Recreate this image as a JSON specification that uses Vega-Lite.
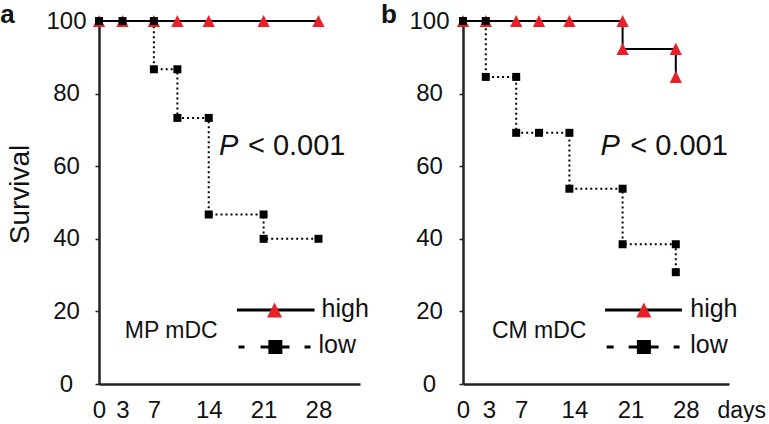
{
  "$schema": "https://vega.github.io/schema/vega-lite/v6.json",
  "background": "white",
  "padding": {"left": 0, "top": 2, "right": 0, "bottom": 0},
  "spacing": 11,
  "config": {
    "view": {"stroke": null},
    "font": "Liberation Sans",
    "axis": {
      "grid": false,
      "domainColor": "#222222",
      "domainWidth": 2.5,
      "labelFont": "Liberation Sans",
      "labelFontSize": 24,
      "labelColor": "#111111",
      "tickColor": "#222222",
      "titleFont": "Liberation Sans",
      "titleColor": "#111111",
      "titleFontWeight": "normal"
    },
    "text": {"color": "#111111"}
  },
  "datasets": {
    "curvesA": [
      {"group": "high", "seq": 1, "day": 0, "surv": 100},
      {"group": "high", "seq": 2, "day": 3, "surv": 100},
      {"group": "high", "seq": 3, "day": 7, "surv": 100},
      {"group": "high", "seq": 4, "day": 10, "surv": 100},
      {"group": "high", "seq": 5, "day": 14, "surv": 100},
      {"group": "high", "seq": 6, "day": 21, "surv": 100},
      {"group": "high", "seq": 7, "day": 28, "surv": 100},
      {"group": "low", "seq": 1, "day": 0, "surv": 100},
      {"group": "low", "seq": 2, "day": 3, "surv": 100},
      {"group": "low", "seq": 3, "day": 7, "surv": 100},
      {"group": "low", "seq": 4, "day": 7, "surv": 86.7},
      {"group": "low", "seq": 5, "day": 10, "surv": 86.7},
      {"group": "low", "seq": 6, "day": 10, "surv": 73.3},
      {"group": "low", "seq": 7, "day": 14, "surv": 73.3},
      {"group": "low", "seq": 8, "day": 14, "surv": 46.7},
      {"group": "low", "seq": 9, "day": 21, "surv": 46.7},
      {"group": "low", "seq": 10, "day": 21, "surv": 40},
      {"group": "low", "seq": 11, "day": 28, "surv": 40}
    ],
    "curvesB": [
      {"group": "high", "seq": 1, "day": 0, "surv": 100},
      {"group": "high", "seq": 2, "day": 3, "surv": 100},
      {"group": "high", "seq": 3, "day": 7, "surv": 100},
      {"group": "high", "seq": 4, "day": 10, "surv": 100},
      {"group": "high", "seq": 5, "day": 14, "surv": 100},
      {"group": "high", "seq": 6, "day": 21, "surv": 100},
      {"group": "high", "seq": 7, "day": 21, "surv": 92.3},
      {"group": "high", "seq": 8, "day": 28, "surv": 92.3},
      {"group": "high", "seq": 9, "day": 28, "surv": 84.6},
      {"group": "low", "seq": 1, "day": 0, "surv": 100},
      {"group": "low", "seq": 2, "day": 3, "surv": 100},
      {"group": "low", "seq": 3, "day": 3, "surv": 84.6},
      {"group": "low", "seq": 4, "day": 7, "surv": 84.6},
      {"group": "low", "seq": 5, "day": 7, "surv": 69.2},
      {"group": "low", "seq": 6, "day": 10, "surv": 69.2},
      {"group": "low", "seq": 7, "day": 14, "surv": 69.2},
      {"group": "low", "seq": 8, "day": 14, "surv": 53.8},
      {"group": "low", "seq": 9, "day": 21, "surv": 53.8},
      {"group": "low", "seq": 10, "day": 21, "surv": 38.5},
      {"group": "low", "seq": 11, "day": 28, "surv": 38.5},
      {"group": "low", "seq": 12, "day": 28, "surv": 30.8}
    ],
    "notesA": [
      {"kind": "hline", "day": 17.6, "surv": 20.4},
      {"kind": "hline", "day": 27.5, "surv": 20.4},
      {"kind": "lline", "day": 17.8, "surv": 10.2},
      {"kind": "lline", "day": 27.0, "surv": 10.2},
      {"kind": "hmark", "day": 22.4, "surv": 20.4},
      {"kind": "lmark", "day": 22.5, "surv": 10.2},
      {"kind": "key", "day": 28.4, "surv": 18.5, "label": "high"},
      {"kind": "key", "day": 28.0, "surv": 8.5, "label": "low"},
      {"kind": "cell", "day": 3.3, "surv": 12.7, "label": "MP mDC"},
      {"kind": "pit", "day": 15.3, "surv": 63.1, "label": "P"},
      {"kind": "prest", "day": 19.0, "surv": 63.1, "label": "< 0.001"},
      {"kind": "panel", "day": -12.6, "surv": 99.4, "label": "a"}
    ],
    "notesB": [
      {"kind": "hline", "day": 18.7, "surv": 20.4},
      {"kind": "hline", "day": 28.8, "surv": 20.4},
      {"kind": "lline", "day": 18.9, "surv": 10.2},
      {"kind": "lline", "day": 28.5, "surv": 10.2},
      {"kind": "hmark", "day": 23.8, "surv": 20.4},
      {"kind": "lmark", "day": 23.8, "surv": 10.2},
      {"kind": "key", "day": 29.9, "surv": 18.5, "label": "high"},
      {"kind": "key", "day": 29.9, "surv": 8.5, "label": "low"},
      {"kind": "cell", "day": 3.8, "surv": 12.7, "label": "CM mDC"},
      {"kind": "pit", "day": 18.1, "surv": 63.1, "label": "P"},
      {"kind": "prest", "day": 22.0, "surv": 63.1, "label": "< 0.001"},
      {"kind": "panel", "day": -10.8, "surv": 99.4, "label": "b"}
    ]
  },
  "hconcat": [
    {
      "width": 261,
      "height": 363,
      "encoding": {
        "x": {
          "field": "day", "type": "quantitative",
          "scale": {"domain": [0, 33.3], "nice": false, "zero": false},
          "axis": {
            "values": [0, 3, 7, 14, 21, 28], "title": null, "ticks": false, "tickSize": 0,
            "labelPadding": 14, "labelFlush": false, "labelOverlap": false
          }
        },
        "y": {
          "field": "surv", "type": "quantitative",
          "scale": {"domain": [0, 100], "nice": false},
          "axis": {
            "values": [0, 20, 40, 60, 80, 100], "title": "Survival", "titleFontSize": 28,
            "titlePadding": 11, "titleY": 173, "labelAlign": "center", "labelPadding": 29,
            "tickSize": 4, "tickWidth": 1.5, "labelOverlap": false
          }
        }
      },
      "layer": [
        {
          "data": {"name": "curvesA"},
          "mark": {"type": "line", "color": "#000000", "strokeWidth": 2},
          "encoding": {
            "strokeDash": {"field": "group", "type": "nominal", "scale": {"domain": ["high", "low"], "range": [[1, 0], [2, 3]]}, "legend": null},
            "order": {"field": "seq", "type": "quantitative"}
          }
        },
        {
          "data": {"name": "curvesA"},
          "mark": {"type": "point", "filled": true, "opacity": 1, "strokeWidth": 0},
          "encoding": {
            "shape": {"field": "group", "type": "nominal", "scale": {"domain": ["high", "low"], "range": ["M-1,1L1,1L0,-1Z", "square"]}, "legend": null},
            "color": {"field": "group", "type": "nominal", "scale": {"domain": ["high", "low"], "range": ["#e8202a", "#000000"]}, "legend": null},
            "size": {"field": "group", "type": "ordinal", "scale": {"domain": ["high", "low"], "range": [150, 64]}, "legend": null}
          }
        },
        {
          "data": {"name": "notesA"},
          "transform": [{"filter": "datum.kind == 'hline'"}],
          "mark": {"type": "line", "color": "#000000", "strokeWidth": 3},
          "encoding": {}
        },
        {
          "data": {"name": "notesA"},
          "transform": [{"filter": "datum.kind == 'lline'"}],
          "mark": {"type": "line", "color": "#000000", "strokeWidth": 3, "strokeDash": [6, 16, 29, 15, 6, 300]},
          "encoding": {}
        },
        {
          "data": {"name": "notesA"},
          "transform": [{"filter": "datum.kind == 'hmark'"}],
          "mark": {"type": "point", "filled": true, "opacity": 1, "strokeWidth": 0, "shape": "M-1,1L1,1L0,-1Z", "size": 225, "color": "#e8202a"}
        },
        {
          "data": {"name": "notesA"},
          "transform": [{"filter": "datum.kind == 'lmark'"}],
          "mark": {"type": "point", "filled": true, "opacity": 1, "strokeWidth": 0, "shape": "square", "size": 196, "color": "#000000"}
        },
        {
          "data": {"name": "notesA"},
          "transform": [{"filter": "datum.kind == 'key'"}],
          "mark": {"type": "text", "align": "left", "baseline": "alphabetic", "fontSize": 25},
          "encoding": {"text": {"field": "label"}}
        },
        {
          "data": {"name": "notesA"},
          "transform": [{"filter": "datum.kind == 'cell'"}],
          "mark": {"type": "text", "align": "left", "baseline": "alphabetic", "fontSize": 23},
          "encoding": {"text": {"field": "label"}}
        },
        {
          "data": {"name": "notesA"},
          "transform": [{"filter": "datum.kind == 'pit'"}],
          "mark": {"type": "text", "align": "left", "baseline": "alphabetic", "fontSize": 29, "fontStyle": "italic"},
          "encoding": {"text": {"field": "label"}}
        },
        {
          "data": {"name": "notesA"},
          "transform": [{"filter": "datum.kind == 'prest'"}],
          "mark": {"type": "text", "align": "left", "baseline": "alphabetic", "fontSize": 29},
          "encoding": {"text": {"field": "label"}}
        },
        {
          "data": {"name": "notesA"},
          "transform": [{"filter": "datum.kind == 'panel'"}],
          "mark": {"type": "text", "align": "left", "baseline": "alphabetic", "fontSize": 26, "fontWeight": "bold"},
          "encoding": {"text": {"field": "label"}}
        }
      ]
    },
    {
      "width": 266,
      "height": 363,
      "encoding": {
        "x": {
          "field": "day", "type": "quantitative",
          "scale": {"domain": [0, 35], "nice": false, "zero": false},
          "axis": {
            "values": [0, 3, 7, 14, 21, 28], "title": "days", "titleFontSize": 23,
            "titleAlign": "left", "titleBaseline": "alphabetic", "titleX": 254, "titleY": 33,
            "ticks": false, "tickSize": 0, "labelPadding": 14, "labelFlush": false, "labelOverlap": false,
            "labelOffset": {
              "condition": [
                {"test": "datum.value == 3", "value": 3},
                {"test": "datum.value == 7", "value": 5},
                {"test": "datum.value == 14", "value": 5},
                {"test": "datum.value == 21", "value": 8},
                {"test": "datum.value == 28", "value": 10}
              ],
              "value": 0
            }
          }
        },
        "y": {
          "field": "surv", "type": "quantitative",
          "scale": {"domain": [0, 100], "nice": false},
          "axis": {
            "values": [0, 20, 40, 60, 80, 100], "title": null, "labelAlign": "center", "labelPadding": 30,
            "tickSize": 4, "tickWidth": 1.5, "labelOverlap": false
          }
        }
      },
      "layer": [
        {
          "data": {"name": "curvesB"},
          "mark": {"type": "line", "color": "#000000", "strokeWidth": 2},
          "encoding": {
            "strokeDash": {"field": "group", "type": "nominal", "scale": {"domain": ["high", "low"], "range": [[1, 0], [2, 3]]}, "legend": null},
            "order": {"field": "seq", "type": "quantitative"}
          }
        },
        {
          "data": {"name": "curvesB"},
          "mark": {"type": "point", "filled": true, "opacity": 1, "strokeWidth": 0},
          "encoding": {
            "shape": {"field": "group", "type": "nominal", "scale": {"domain": ["high", "low"], "range": ["M-1,1L1,1L0,-1Z", "square"]}, "legend": null},
            "color": {"field": "group", "type": "nominal", "scale": {"domain": ["high", "low"], "range": ["#e8202a", "#000000"]}, "legend": null},
            "size": {"field": "group", "type": "ordinal", "scale": {"domain": ["high", "low"], "range": [150, 64]}, "legend": null}
          }
        },
        {
          "data": {"name": "notesB"},
          "transform": [{"filter": "datum.kind == 'hline'"}],
          "mark": {"type": "line", "color": "#000000", "strokeWidth": 3},
          "encoding": {}
        },
        {
          "data": {"name": "notesB"},
          "transform": [{"filter": "datum.kind == 'lline'"}],
          "mark": {"type": "line", "color": "#000000", "strokeWidth": 3, "strokeDash": [7, 15, 30, 15, 6, 300]},
          "encoding": {}
        },
        {
          "data": {"name": "notesB"},
          "transform": [{"filter": "datum.kind == 'hmark'"}],
          "mark": {"type": "point", "filled": true, "opacity": 1, "strokeWidth": 0, "shape": "M-1,1L1,1L0,-1Z", "size": 225, "color": "#e8202a"}
        },
        {
          "data": {"name": "notesB"},
          "transform": [{"filter": "datum.kind == 'lmark'"}],
          "mark": {"type": "point", "filled": true, "opacity": 1, "strokeWidth": 0, "shape": "square", "size": 196, "color": "#000000"}
        },
        {
          "data": {"name": "notesB"},
          "transform": [{"filter": "datum.kind == 'key'"}],
          "mark": {"type": "text", "align": "left", "baseline": "alphabetic", "fontSize": 25},
          "encoding": {"text": {"field": "label"}}
        },
        {
          "data": {"name": "notesB"},
          "transform": [{"filter": "datum.kind == 'cell'"}],
          "mark": {"type": "text", "align": "left", "baseline": "alphabetic", "fontSize": 23},
          "encoding": {"text": {"field": "label"}}
        },
        {
          "data": {"name": "notesB"},
          "transform": [{"filter": "datum.kind == 'pit'"}],
          "mark": {"type": "text", "align": "left", "baseline": "alphabetic", "fontSize": 29, "fontStyle": "italic"},
          "encoding": {"text": {"field": "label"}}
        },
        {
          "data": {"name": "notesB"},
          "transform": [{"filter": "datum.kind == 'prest'"}],
          "mark": {"type": "text", "align": "left", "baseline": "alphabetic", "fontSize": 29},
          "encoding": {"text": {"field": "label"}}
        },
        {
          "data": {"name": "notesB"},
          "transform": [{"filter": "datum.kind == 'panel'"}],
          "mark": {"type": "text", "align": "left", "baseline": "alphabetic", "fontSize": 26, "fontWeight": "bold"},
          "encoding": {"text": {"field": "label"}}
        }
      ]
    }
  ]
}
